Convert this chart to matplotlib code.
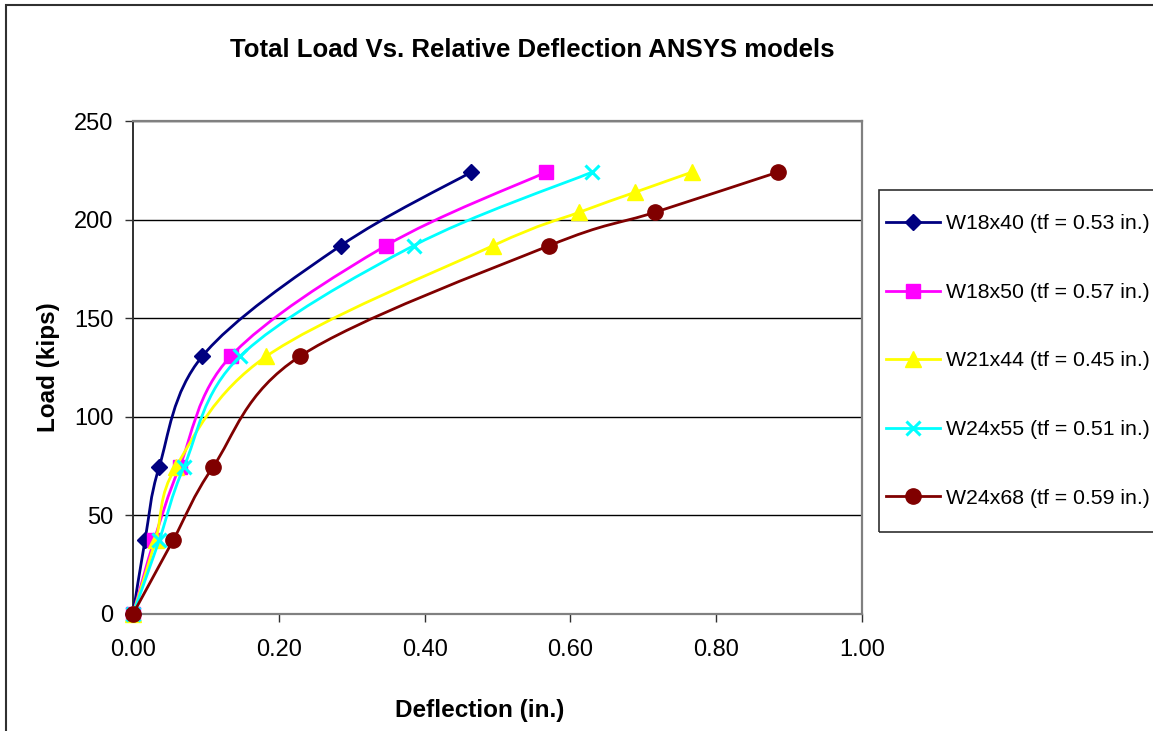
import numpy as np
import matplotlib
matplotlib.use("Agg")
import matplotlib.pyplot as plt
from matplotlib.path import Path
from matplotlib.patches import PathPatch, Rectangle
from matplotlib.lines import Line2D

plt.rcParams['font.family'] = ['Liberation Sans', 'DejaVu Sans']

# Load steps (kips)
loads_std = [0, 37.4, 74.7, 130.7, 186.8, 224.1]
loads_w21x44 = [0, 37.4, 74.7, 130.7, 186.8, 203.7, 213.9, 224.1]
loads_w24x68 = [0, 37.4, 74.7, 130.7, 186.8, 203.7, 224.1]

# Relative deflection (in.)
defl_w18x40 = [0, 0.0165, 0.036, 0.095, 0.285, 0.464]
defl_w18x50 = [0, 0.029, 0.064, 0.134, 0.347, 0.567]
defl_w21x44 = [0, 0.031, 0.059, 0.183, 0.494, 0.612, 0.689, 0.767]
defl_w24x55 = [0, 0.036, 0.070, 0.147, 0.385, 0.630]
defl_w24x68 = [0, 0.055, 0.110, 0.229, 0.571, 0.716, 0.885]

series_labels = ["W18x40 (tf = 0.53 in.)", "W18x50 (tf = 0.57 in.)",
                 "W21x44 (tf = 0.45 in.)", "W24x55 (tf = 0.51 in.)",
                 "W24x68 (tf = 0.59 in.)"]
series_x = [defl_w18x40, defl_w18x50, defl_w21x44, defl_w24x55, defl_w24x68]
series_y = [loads_std, loads_std, loads_w21x44, loads_std, loads_w24x68]

x_ticks = [0.0, 0.2, 0.4, 0.6, 0.8, 1.0]
y_ticks = [0, 50, 100, 150, 200, 250]

colors = ["#000080", "#FF00FF", "#FFFF00", "#00FFFF", "#800000"]
markers = [dict(marker="D", ms=8.5), dict(marker="s", ms=10.5),
           dict(marker="^", ms=11), dict(marker="x", ms=10.5, mew=2.2),
           dict(marker="o", ms=11)]


def smooth_path(x, y):
    """Smoothed polyline through the points (cubic Bezier, Catmull-Rom style)."""
    pts = np.column_stack([x, y]).astype(float)
    n = len(pts)
    verts = [pts[0]]
    codes = [Path.MOVETO]
    for i in range(n - 1):
        p0 = pts[max(i - 1, 0)]
        p1 = pts[i]
        p2 = pts[i + 1]
        p3 = pts[min(i + 2, n - 1)]
        c1 = p1 + (p2 - p0) / 6.0
        c2 = p2 - (p3 - p1) / 6.0
        verts += [c1, c2, p2]
        codes += [Path.CURVE4] * 3
    return Path(verts, codes)


W, H = 1153, 731
fig = plt.figure(figsize=(W / 100, H / 100), dpi=100)
fig.patch.set_facecolor("white")

ax = fig.add_axes([133 / W, 1 - 614 / H, (862 - 133) / W, (614 - 121) / H])
ax.set_xlim(0, 1.0)
ax.set_ylim(0, 250)

handles = []
for k, (xs, ys, c, m, lab) in enumerate(zip(series_x, series_y, colors, markers, series_labels)):
    patch = PathPatch(smooth_path(xs, ys), facecolor="none", edgecolor=c,
                      lw=2.0, zorder=3 + 2 * k, clip_on=False)
    ax.add_patch(patch)
    mkw = dict(m)
    mew = mkw.pop("mew", 1.0)
    ax.plot(xs, ys, linestyle="none", color=c, markeredgecolor=c,
            markerfacecolor=c, mew=mew, zorder=4 + 2 * k, clip_on=False, **mkw)
    handles.append(Line2D([], [], color=c, lw=2.0, markerfacecolor=c,
                          markeredgecolor=c, mew=mew, **mkw))

# Grid and frame
ax.set_xticks(x_ticks)
ax.set_yticks(y_ticks)
ax.set_xticklabels([f"{v:.2f}" for v in x_ticks])
ax.set_yticklabels([f"{v:d}" for v in y_ticks])
ax.yaxis.grid(True, color="black", lw=1.0)
ax.set_axisbelow(True)
for side in ["top", "right", "bottom"]:
    ax.spines[side].set_color("#808080")
    ax.spines[side].set_linewidth(1.6)
ax.spines["left"].set_color("#303030")
ax.spines["left"].set_linewidth(1.4)
ax.tick_params(axis="both", direction="out", length=6, width=1.0,
               color="#303030", labelsize=17, labelcolor="black")
ax.tick_params(axis="y", pad=8)
ax.tick_params(axis="x", pad=12)

ax.set_xlabel("Deflection (in.)", fontsize=17.5, fontweight="bold")
ax.set_ylabel("Load (kips)", fontsize=17.5, fontweight="bold")
ax.xaxis.label.set_va("center")
ax.yaxis.label.set_va("center")
ax.xaxis.set_label_coords((480 - 133) / 729, (614 - 711) / 493)
ax.yaxis.set_label_coords((48 - 133) / 729, 0.5)

fig.text(532 / W, 1 - 50 / H, "Total Load Vs. Relative Deflection ANSYS models",
         ha="center", va="center", fontsize=18.5, fontweight="bold")

# Outer chart border
fig.patches.append(Rectangle((6 / W, -0.1), 1.2, 1 - 5 / H + 0.1,
                             transform=fig.transFigure, fill=False,
                             edgecolor="#303030", lw=1.5))

# Legend box and entries
fig.patches.append(Rectangle((879 / W, 1 - 532 / H), 0.3, (532 - 190) / H,
                             transform=fig.transFigure, fill=False,
                             edgecolor="#303030", lw=1.2, zorder=5))
leg = fig.legend(handles, series_labels, loc="center left",
                 bbox_to_anchor=(884 / W, 1 - 361 / H), frameon=False,
                 fontsize=15.3, numpoints=1, handlelength=2.55,
                 handletextpad=0.25, labelspacing=2.33, borderpad=0.1,
                 borderaxespad=0)

fig.savefig("out.png", dpi=100)
